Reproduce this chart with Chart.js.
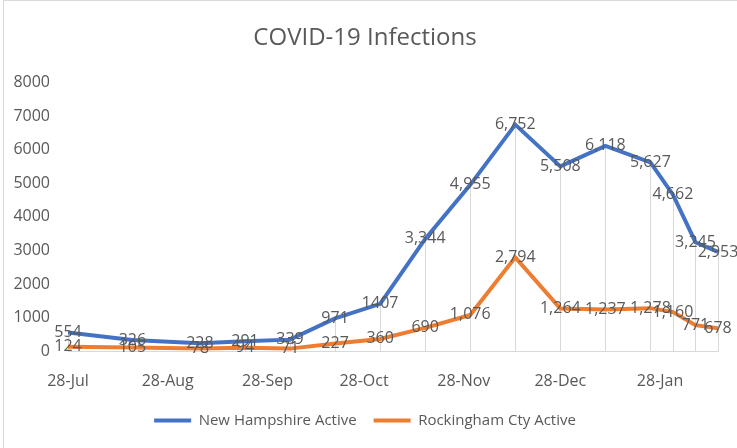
<!DOCTYPE html>
<html>
<head>
<meta charset="utf-8">
<script src="https://cdn.jsdelivr.net/npm/chart.js@4"></script>
<style>
  body { margin: 0; background: #fff; }
  canvas { display: block; }
</style>
</head>
<body>
<canvas id="myChart" width="737" height="448"></canvas>
<script>
// Data
const dates = [
  '2020-07-28', '2020-08-17', '2020-09-07', '2020-09-21', '2020-10-05',
  '2020-10-19', '2020-11-02', '2020-11-16', '2020-11-30', '2020-12-14',
  '2020-12-28', '2021-01-11', '2021-01-25', '2021-02-01', '2021-02-08',
  '2021-02-15',
];
const nhActive = [554, 326, 228, 291, 339, 971, 1407, 3344, 4955, 6752, 5508, 6118, 5627, 4662, 3245, 2953];
const rockActive = [124, 105, 78, 94, 71, 227, 360, 690, 1076, 2794, 1264, 1237, 1278, 1160, 771, 678];
const tickDates = ['2020-07-28', '2020-08-28', '2020-09-28', '2020-10-28', '2020-11-28', '2020-12-28', '2021-01-28'];
const tickLabels = ['28-Jul', '28-Aug', '28-Sep', '28-Oct', '28-Nov', '28-Dec', '28-Jan'];
const yTicks = [0, 1000, 2000, 3000, 4000, 5000, 6000, 7000, 8000];
// values the original shows without a thousands separator
const plainLabels = [1407];

const FONT = '"Open Sans", sans-serif';
const TEXT = '#595959';

// day number from an ISO date
function toDay(s) {
  return Date.parse(s + 'T00:00:00Z') / 86400000;
}

function fmt(v) {
  return plainLabels.includes(v) ? String(v) : v.toLocaleString('en-US');
}

const days = dates.map(toDay);
const tickDays = tickDates.map(toDay);

// draw thin drop lines from the upper point down to the axis
const dropLines = {
  id: 'dropLines',
  beforeDatasetsDraw(chart) {
    const ctx = chart.ctx;
    const metas = chart.data.datasets.map((d, i) => chart.getDatasetMeta(i));
    const bottom = chart.chartArea.bottom;
    ctx.save();
    ctx.strokeStyle = '#d9d9d9';
    ctx.lineWidth = 1;
    metas[0].data.forEach((pt, i) => {
      const top = Math.min(...metas.map((m) => m.data[i].y));
      const x = Math.round(pt.x) + 0.5;
      ctx.beginPath();
      ctx.moveTo(x, top);
      ctx.lineTo(x, bottom);
      ctx.stroke();
    });
    ctx.restore();
  },
};

// value labels centred on each point
const valueLabels = {
  id: 'valueLabels',
  afterDatasetsDraw(chart) {
    const ctx = chart.ctx;
    ctx.save();
    ctx.font = '16px ' + FONT;
    ctx.fillStyle = TEXT;
    ctx.textAlign = 'center';
    ctx.textBaseline = 'middle';
    chart.data.datasets.forEach((ds, di) => {
      chart.getDatasetMeta(di).data.forEach((pt, i) => {
        ctx.fillText(fmt(ds.data[i].y), pt.x, pt.y);
      });
    });
    ctx.restore();
  },
};

// chart frame (left and top edge)
const frame = {
  id: 'frame',
  beforeDraw(chart) {
    const ctx = chart.ctx;
    ctx.save();
    ctx.strokeStyle = '#d9d9d9';
    ctx.lineWidth = 1;
    ctx.beginPath();
    ctx.moveTo(3.5, chart.height);
    ctx.lineTo(3.5, 0.5);
    ctx.lineTo(chart.width, 0.5);
    ctx.stroke();
    ctx.restore();
  },
};

const legendHeight = {
  id: 'legendHeight',
  beforeInit(chart) {
    const fit = chart.legend.fit;
    chart.legend.fit = function () {
      fit.bind(chart.legend)();
      this.height = 52;
    };
  },
};

const chart = new Chart(document.getElementById('myChart').getContext('2d'), {
  type: 'line',
  data: {
    datasets: [
      {
        label: 'New Hampshire Active',
        data: days.map((d, i) => ({ x: d, y: nhActive[i] })),
        borderColor: '#4472C4',
        backgroundColor: '#4472C4',
        borderWidth: 4,
        pointRadius: 0,
        tension: 0,
      },
      {
        label: 'Rockingham Cty Active',
        data: days.map((d, i) => ({ x: d, y: rockActive[i] })),
        borderColor: '#ED7D31',
        backgroundColor: '#ED7D31',
        borderWidth: 4,
        pointRadius: 0,
        tension: 0,
      },
    ],
  },
  options: {
    responsive: false,
    animation: false,
    layout: { padding: { left: 12, right: 19, top: 0, bottom: 0 } },
    plugins: {
      title: {
        display: true,
        text: 'COVID-19 Infections',
        color: TEXT,
        font: { family: FONT, size: 24, weight: 'normal' },
        padding: { top: 24, bottom: 30 },
      },
      legend: {
        position: 'bottom',
        labels: {
          color: TEXT,
          font: { family: FONT, size: 15 },
          usePointStyle: true,
          pointStyle: 'line',
          pointStyleWidth: 37,
          padding: 17,
        },
      },
      tooltip: { enabled: false },
    },
    scales: {
      x: {
        type: 'linear',
        min: days[0],
        max: days[days.length - 1],
        grid: { display: false },
        border: { display: true, color: '#d9d9d9', width: 1 },
        afterBuildTicks: (scale) => {
          scale.ticks = tickDays.map((v) => ({ value: v }));
        },
        afterFit: (scale) => {
          scale.height = 45;
        },
        ticks: {
          autoSkip: false,
          maxRotation: 0,
          padding: 13,
          color: TEXT,
          font: { family: FONT, size: 16 },
          callback: (v, i) => tickLabels[i],
        },
      },
      y: {
        min: 0,
        max: 8000,
        grid: { display: false, drawTicks: false },
        border: { display: false },
        afterBuildTicks: (scale) => {
          scale.ticks = yTicks.map((v) => ({ value: v }));
        },
        afterFit: (scale) => {
          scale.width = 56;
        },
        ticks: {
          padding: 18,
          color: TEXT,
          font: { family: FONT, size: 16 },
          callback: (v) => String(v),
        },
      },
    },
  },
  plugins: [frame, dropLines, valueLabels, legendHeight],
});
</script>
</body>
</html>
